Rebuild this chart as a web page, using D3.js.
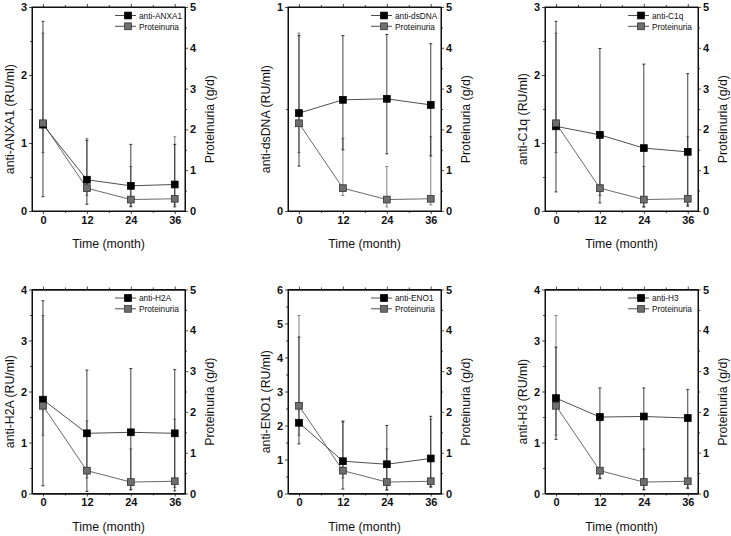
<!DOCTYPE html>
<html>
<head>
<meta charset="utf-8">
<script src="https://cdn.jsdelivr.net/npm/d3@7"></script>
<style>
  body { margin: 0; background: #fff; }
  svg { display: block; font-family: "Liberation Sans", Arial, sans-serif; }
</style>
</head>
<body>
<script>
'use strict'
// time points and shared proteinuria series (right axis, g/d)
var months = [0, 12, 24, 36];
var xTicks = [0, 12, 24, 36];
var xMinor = [6, 18, 30];
var proteinuria = [2.15, 0.56, 0.28, 0.30];
var proteinuriaLo = [1.43, 0.38, 0.10, 0.15];
var proteinuriaHi = [4.36, 1.78, 1.09, 1.82];
var rightTicks = [0, 1, 2, 3, 4, 5];

// antibody series, one entry per panel (left axis, RU/ml)
var antibodies = ["anti-ANXA1", "anti-dsDNA", "anti-C1q", "anti-H2A", "anti-ENO1", "anti-H3"];
var leftMax = [3, 1, 3, 4, 6, 4];
var antibodyMean = [
  [1.27, 0.46, 0.37, 0.39],
  [0.48, 0.545, 0.55, 0.52],
  [1.245, 1.12, 0.925, 0.87],
  [1.84, 1.18, 1.20, 1.18],
  [2.08, 0.95, 0.86, 1.03],
  [1.87, 1.50, 1.51, 1.48]
];
var antibodyLo = [
  [0.21, 0.10, 0.07, 0.06],
  [0.22, 0.30, 0.28, 0.27],
  [0.28, 0.12, 0.06, 0.07],
  [0.15, 0.04, 0.07, 0.05],
  [1.46, 0.13, 0.10, 0.20],
  [1.06, 0.29, 0.07, 0.10]
];
var antibodyHi = [
  [2.79, 1.04, 0.98, 0.98],
  [0.86, 0.86, 0.865, 0.82],
  [2.79, 2.39, 2.16, 2.02],
  [3.78, 2.42, 2.45, 2.43],
  [4.60, 2.11, 2.00, 2.27],
  [2.87, 2.07, 2.07, 2.04]
];

// layout
var colLeft = [32, 288, 545];
var rowTop = [7, 289.5];
var pw = 153, ph = 204;
var mk = 6.8;   // marker size
var capW = 3;

var svg = d3.select("body").append("svg")
  .attr("width", 731).attr("height", 536);

function drawPanel(i) {
  var left = colLeft[i % 3], top = rowTop[Math.floor(i / 3)];
  var g = svg.append("g").attr("transform", "translate(" + left + "," + top + ")");

  var x = d3.scaleLinear().domain([-3, 38.8]).range([0, pw]);
  var yL = d3.scaleLinear().domain([0, leftMax[i]]).range([ph, 0]);
  var yR = d3.scaleLinear().domain([0, 5]).range([ph, 0]);

  var leftTicks = d3.range(0, leftMax[i] + 1, 1);
  var leftMinor = d3.range(0.5, leftMax[i], 1);
  var rightMinor = d3.range(0.5, 5, 1);

  // axes (outward ticks), mirrored on top and right
  g.append("g").attr("transform", "translate(0," + ph + ")")
    .call(d3.axisBottom(x).tickValues(xTicks).tickSize(3).tickPadding(2).tickSizeOuter(0));
  g.append("g").attr("transform", "translate(0," + ph + ")")
    .call(d3.axisBottom(x).tickValues(xMinor).tickSize(2).tickFormat("").tickSizeOuter(0));
  g.append("g").call(d3.axisTop(x).tickValues(xTicks).tickSize(3).tickFormat("").tickSizeOuter(0));
  g.append("g").call(d3.axisTop(x).tickValues(xMinor).tickSize(2).tickFormat("").tickSizeOuter(0));

  g.append("g").call(d3.axisLeft(yL).tickValues(leftTicks).tickSize(3).tickPadding(2).tickFormat(d3.format("d")).tickSizeOuter(0));
  g.append("g").call(d3.axisLeft(yL).tickValues(leftMinor).tickSize(2).tickFormat("").tickSizeOuter(0));
  g.append("g").attr("transform", "translate(" + pw + ",0)")
    .call(d3.axisRight(yR).tickValues(rightTicks).tickSize(3).tickPadding(2).tickFormat(d3.format("d")).tickSizeOuter(0));
  g.append("g").attr("transform", "translate(" + pw + ",0)")
    .call(d3.axisRight(yR).tickValues(rightMinor).tickSize(2).tickFormat("").tickSizeOuter(0));

  g.selectAll(".domain").attr("stroke", "#111").attr("stroke-width", 1);
  g.selectAll(".tick line").attr("stroke", "#222").attr("stroke-width", 0.8);
  g.selectAll(".tick text").attr("font-size", 11).attr("font-weight", "bold")
    .attr("font-family", "Liberation Sans, Arial, sans-serif").attr("fill", "#111");

  // frame
  g.append("rect").attr("width", pw).attr("height", ph)
    .attr("fill", "none").attr("stroke", "#111").attr("stroke-width", 1);

  // titles
  g.append("text").attr("x", pw / 2).attr("y", ph + 37)
    .attr("text-anchor", "middle").attr("font-size", 12.3).attr("fill", "#111")
    .text("Time (month)");
  g.append("text").attr("transform", "translate(-22.7," + (ph * 0.55) + ") rotate(-90)")
    .attr("text-anchor", "middle").attr("dy", "0.35em").attr("font-size", 12.3).attr("fill", "#111")
    .text(antibodies[i] + " (RU/ml)");
  g.append("text").attr("transform", "translate(" + (pw + 25) + "," + (ph * 0.55) + ") rotate(-90)")
    .attr("text-anchor", "middle").attr("dy", "0.35em").attr("font-size", 12.3).attr("fill", "#111")
    .text("Proteinuria (g/d)");

  var pts = months.map(function (m, k) {
    return { m: m, ab: antibodyMean[i][k], abLo: antibodyLo[i][k], abHi: antibodyHi[i][k],
             pr: proteinuria[k], prLo: proteinuriaLo[k], prHi: proteinuriaHi[k] };
  });

  // error bars: proteinuria (gray) then antibody (black)
  function bars(lo, hi, y, col, w) {
    var eb = g.append("g").attr("stroke", col).attr("stroke-width", w);
    pts.forEach(function (d) {
      eb.append("line").attr("x1", x(d.m)).attr("x2", x(d.m)).attr("y1", y(d[lo])).attr("y2", y(d[hi]));
      [d[lo], d[hi]].forEach(function (v) {
        eb.append("line").attr("x1", x(d.m) - capW / 2).attr("x2", x(d.m) + capW / 2)
          .attr("y1", y(v)).attr("y2", y(v));
      });
    });
  }
  bars("prLo", "prHi", yR, "#808080", 1);
  bars("abLo", "abHi", yL, "#111", 0.8);

  // connecting lines
  g.append("path").datum(pts).attr("fill", "none").attr("stroke", "#222").attr("stroke-width", 0.8)
    .attr("d", d3.line().x(function (d) { return x(d.m); }).y(function (d) { return yL(d.ab); }));
  g.append("path").datum(pts).attr("fill", "none").attr("stroke", "#444").attr("stroke-width", 0.8)
    .attr("d", d3.line().x(function (d) { return x(d.m); }).y(function (d) { return yR(d.pr); }));

  // markers
  g.selectAll("rect.ab").data(pts).enter().append("rect").attr("class", "ab")
    .attr("x", function (d) { return x(d.m) - mk / 2; }).attr("y", function (d) { return yL(d.ab) - mk / 2; })
    .attr("width", mk).attr("height", mk).attr("fill", "#000").attr("stroke", "#000").attr("stroke-width", 0.8);
  g.selectAll("rect.pr").data(pts).enter().append("rect").attr("class", "pr")
    .attr("x", function (d) { return x(d.m) - mk / 2; }).attr("y", function (d) { return yR(d.pr) - mk / 2; })
    .attr("width", mk).attr("height", mk).attr("fill", "#6e6e6e").attr("stroke", "#333").attr("stroke-width", 0.8);

  // legend
  var legend = [{ name: antibodies[i], fill: "#000", stroke: "#000" },
                { name: "Proteinuria", fill: "#6e6e6e", stroke: "#333" }];
  legend.forEach(function (l, k) {
    var ly = 8.5 + k * 10.8;
    var lg = g.append("g").attr("transform", "translate(" + (pw - 70) + "," + ly + ")");
    lg.append("line").attr("x1", 0).attr("x2", 21).attr("stroke", "#222").attr("stroke-width", 0.8);
    lg.append("rect").attr("x", 13 - 3.4).attr("y", -3.4).attr("width", 6.8).attr("height", 6.8)
      .attr("fill", l.fill).attr("stroke", l.stroke).attr("stroke-width", 0.8);
    lg.append("text").attr("transform", "translate(24,0) scale(0.88,1)")
      .attr("dy", "0.36em").attr("font-size", 9.4).attr("fill", "#111")
      .text(l.name);
  });
}

antibodies.forEach(function (a, i) { drawPanel(i); });
</script>
</body>
</html>
